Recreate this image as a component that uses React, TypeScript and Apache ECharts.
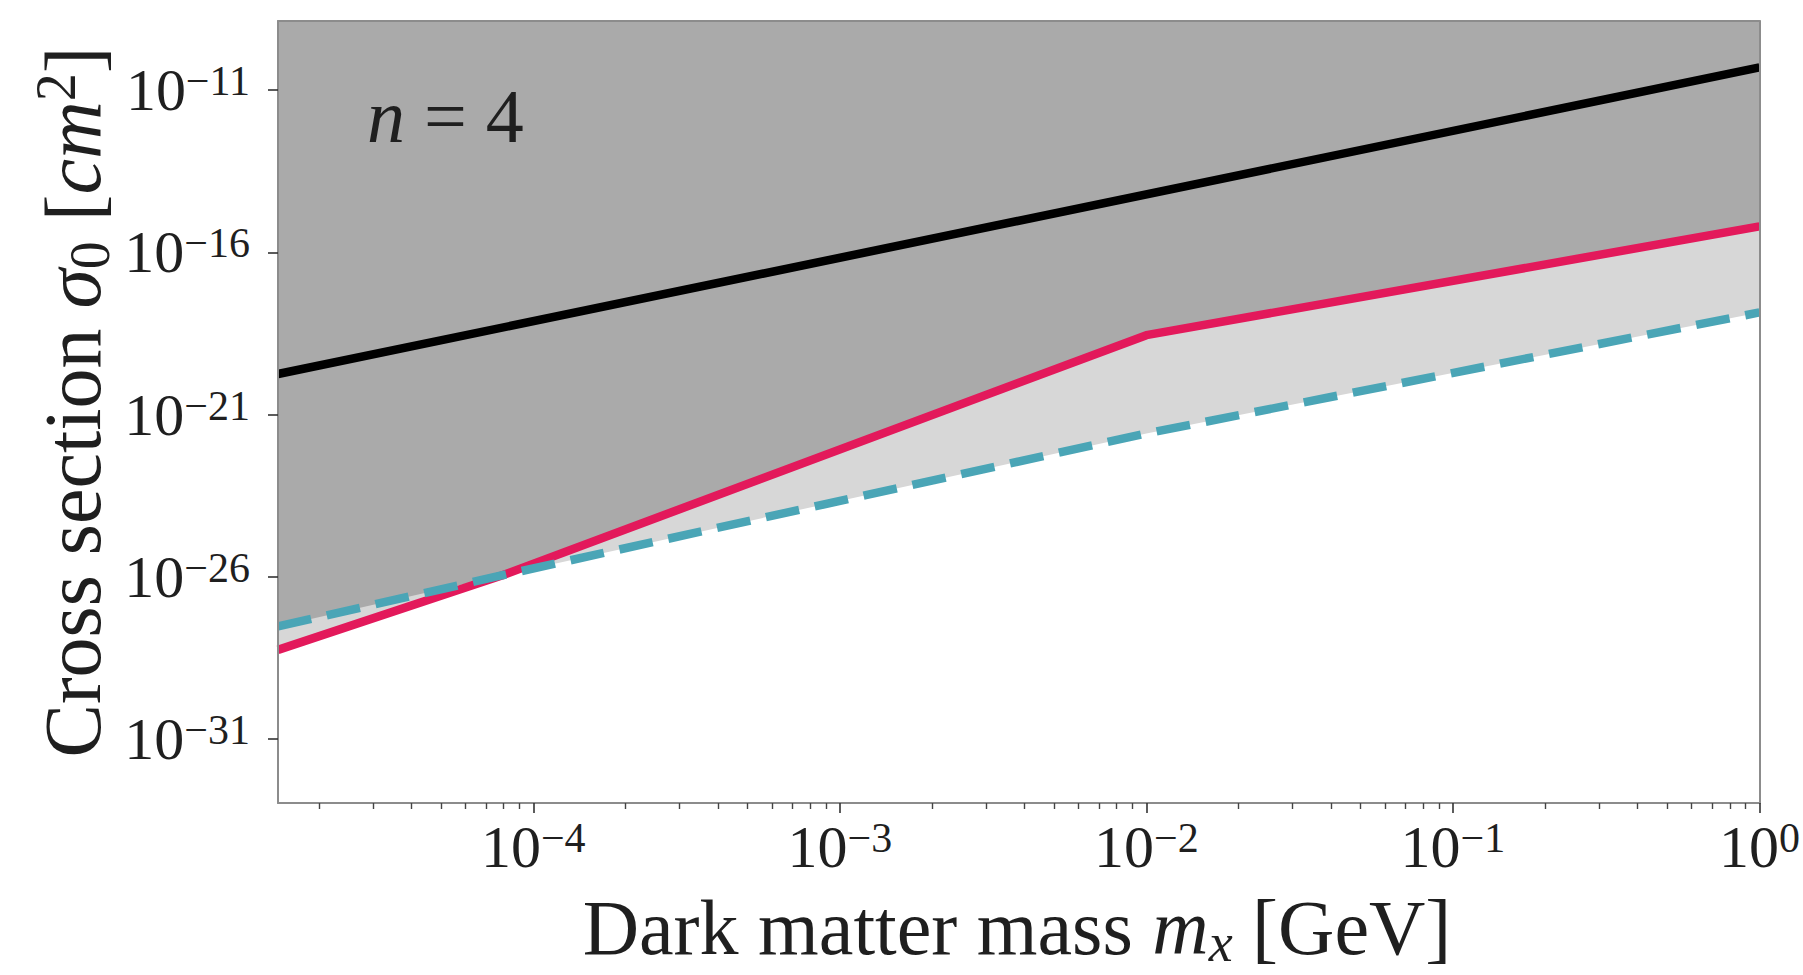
import React, { useEffect, useRef } from "react";
import * as echarts from "echarts";

// Dark matter mass knots (GeV) shared by the two constraint curves
const massGeV = [1.47e-5, 7.94e-5, 1e-2, 1];
// Solid crimson constraint curve (cm^2)
const crimsonSigma = [5.6e-29, 1.12e-26, 2.8e-19, 6.3e-16];
// Dashed teal constraint curve (cm^2)
const tealSigma = [2.95e-28, 1.12e-26, 2.63e-22, 1.41e-18];
// Black reference line
const blackMass = [1.47e-5, 1];
const blackSigma = [1.78e-20, 5.0e-11];

// Axis extents and decade ticks
const xRange = [1.47e-5, 1];
const yRange = [1.07e-33, 1.35e-9];
const xMajorTicks = [1e-4, 1e-3, 1e-2, 1e-1, 1];
const yMajorTicks = [1e-31, 1e-26, 1e-21, 1e-16, 1e-11];

const lg = (v: number) => Math.log10(v);
const FONT = "'Liberation Serif', 'DejaVu Serif', serif";
const INK = "#1f1f1f";
const SPINE = "#8c8c8c";

// minor ticks at 2..9 x 10^k inside the x range
const xMinorTicks: number[] = [];
for (let d = -5; d < 0; d++) {
  for (let k = 2; k <= 9; k++) {
    const v = k * Math.pow(10, d);
    if (v >= xRange[0] && v <= xRange[1]) xMinorTicks.push(v);
  }
}

const powerLabel = (v: number) => {
  const e = Math.round(v);
  return `{b|10}{s|${e < 0 ? "\u2212" : ""}${Math.abs(e)}}`;
};

const tickRich = {
  b: { fontSize: 60, lineHeight: 60, fontFamily: FONT, color: INK },
  s: { fontSize: 42, lineHeight: 28, verticalAlign: "top", fontFamily: FONT, color: INK },
};

const lower = crimsonSigma.map((p, i) => Math.min(lg(p), lg(tealSigma[i])));
const upper = crimsonSigma.map((p, i) => Math.max(lg(p), lg(tealSigma[i])));

const pairs = (xs: number[], ys: number[]) => xs.map((x, i) => [lg(x), ys[i]]);

export default function App() {
  const ref = useRef<HTMLDivElement>(null);

  useEffect(() => {
    document.body.style.margin = "0";
    const chart = echarts.init(ref.current!, null, { renderer: "svg" });

    const spineOnly = {
      axisLine: { show: true, onZero: false, lineStyle: { color: SPINE, width: 2 } },
      axisTick: { show: false },
      axisLabel: { show: false },
      splitLine: { show: false },
    };

    chart.setOption({
      animation: false,
      backgroundColor: "#ffffff",
      grid: { left: 278, right: 40, top: 21, bottom: 172, containLabel: false },
      xAxis: [
        {
          type: "value",
          position: "bottom",
          min: lg(xRange[0]),
          max: lg(xRange[1]),
          z: 5,
          axisLine: { show: true, onZero: false, lineStyle: { color: SPINE, width: 2 } },
          axisTick: {
            show: true,
            customValues: xMajorTicks.map(lg),
            length: 10,
            lineStyle: { color: "#333", width: 1.6 },
          },
          axisLabel: {
            customValues: xMajorTicks.map(lg),
            formatter: powerLabel,
            margin: 14,
            rich: tickRich,
          },
          splitLine: { show: false },
        },
        {
          type: "value",
          position: "bottom",
          min: lg(xRange[0]),
          max: lg(xRange[1]),
          z: 5,
          axisLine: { show: false, onZero: false },
          axisTick: {
            show: true,
            customValues: xMinorTicks.map(lg),
            length: 6,
            lineStyle: { color: "#444", width: 1.4 },
          },
          axisLabel: { show: false },
          splitLine: { show: false },
        },
        {
          type: "value",
          position: "top",
          min: lg(xRange[0]),
          max: lg(xRange[1]),
          z: 5,
          ...spineOnly,
        },
      ],
      yAxis: [
        {
          type: "value",
          position: "left",
          min: lg(yRange[0]),
          max: lg(yRange[1]),
          z: 5,
          axisLine: { show: true, onZero: false, lineStyle: { color: SPINE, width: 2 } },
          axisTick: {
            show: true,
            customValues: yMajorTicks.map(lg),
            length: 10,
            lineStyle: { color: "#333", width: 1.6 },
          },
          axisLabel: {
            customValues: yMajorTicks.map(lg),
            formatter: powerLabel,
            margin: 28,
            rich: tickRich,
          },
          splitLine: { show: false },
        },
        {
          type: "value",
          position: "right",
          min: lg(yRange[0]),
          max: lg(yRange[1]),
          z: 5,
          ...spineOnly,
        },
      ],
      series: [
        {
          name: "between",
          type: "line",
          symbol: "none",
          data: pairs(massGeV, lower),
          lineStyle: { width: 0, opacity: 0 },
          areaStyle: { origin: "end", color: "#d7d7d7", opacity: 1 },
          silent: true,
        },
        {
          name: "excluded",
          type: "line",
          symbol: "none",
          data: pairs(massGeV, upper),
          lineStyle: { width: 0, opacity: 0 },
          areaStyle: { origin: "end", color: "#aaaaaa", opacity: 1 },
          silent: true,
        },
        {
          name: "reference",
          type: "line",
          symbol: "none",
          data: pairs(blackMass, blackSigma.map(lg)),
          lineStyle: { color: "#000000", width: 8.5, cap: "butt" },
        },
        {
          name: "crimson",
          type: "line",
          symbol: "none",
          data: pairs(massGeV, crimsonSigma.map(lg)),
          lineStyle: { color: "#e3195b", width: 8.5, join: "round" },
        },
        {
          name: "teal",
          type: "line",
          symbol: "none",
          data: pairs(massGeV, tealSigma.map(lg)),
          lineStyle: { color: "#4aa5b6", width: 8.5, type: [34, 16], cap: "butt" },
        },
      ],
      graphic: [
        {
          type: "text",
          x: 367,
          y: 116,
          z: 10,
          style: {
            text: "{i|n}{t| = 4}",
            align: "left",
            verticalAlign: "middle",
            fill: INK,
            rich: {
              i: { fontSize: 76, fontStyle: "italic", fontFamily: FONT, fill: INK },
              t: { fontSize: 76, fontFamily: FONT, fill: INK },
            },
          },
        },
        {
          type: "text",
          x: 1017,
          y: 927,
          z: 10,
          style: {
            text: "{t|Dark matter mass }{i|m}{sub|x}{t| [GeV]}",
            align: "center",
            verticalAlign: "middle",
            fill: INK,
            rich: {
              t: { fontSize: 78, lineHeight: 86, fontFamily: FONT, fill: INK },
              i: { fontSize: 78, lineHeight: 86, fontStyle: "italic", fontFamily: FONT, fill: INK },
              sub: { fontSize: 54, lineHeight: 44, verticalAlign: "bottom", fontStyle: "italic", fontFamily: FONT, fill: INK },
            },
          },
        },
        {
          type: "text",
          x: 73,
          y: 402,
          rotation: Math.PI / 2,
          z: 10,
          style: {
            text: "{t|Cross section }{i|\u03c3}{sub|0}{t| [}{i|cm}{sup|2}{t|]}",
            align: "center",
            verticalAlign: "middle",
            fill: INK,
            rich: {
              t: { fontSize: 80, lineHeight: 90, fontFamily: FONT, fill: INK },
              i: { fontSize: 80, lineHeight: 90, fontStyle: "italic", fontFamily: FONT, fill: INK },
              sub: { fontSize: 56, lineHeight: 50, verticalAlign: "bottom", fontFamily: FONT, fill: INK },
              sup: { fontSize: 56, lineHeight: 40, verticalAlign: "top", fontFamily: FONT, fill: INK },
            },
          },
        },
      ],
    });

    return () => chart.dispose();
  }, []);

  return <div ref={ref} style={{ width: 1803, height: 975 }} />;
}
